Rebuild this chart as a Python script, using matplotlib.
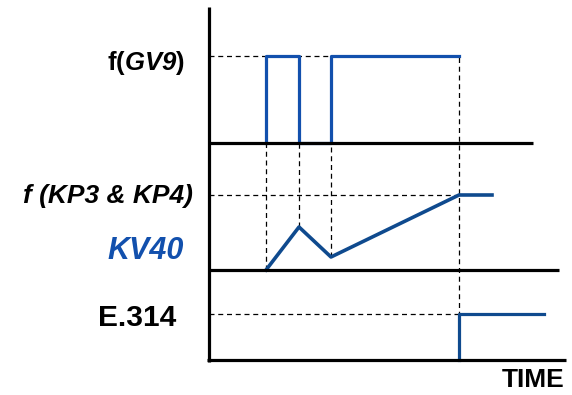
import matplotlib
matplotlib.use("Agg")
from matplotlib import pyplot as plt

plt.rcParams['font.family'] = ['Liberation Sans', 'DejaVu Sans']
plt.rcParams['mathtext.fontset'] = 'custom'
plt.rcParams['mathtext.rm'] = 'Liberation Sans'
plt.rcParams['mathtext.bf'] = 'Liberation Sans:bold'
plt.rcParams['mathtext.bfit'] = 'Liberation Sans:italic:bold'

# event times (arbitrary time units)
t_events = [5.7, 9.0, 12.2, 25.0]

# lane baselines (bottom to top)
base_e314 = 0.0
base_kv40 = 9.0
base_gv9 = 21.7

# f(GV9) pulse train
gv9_t = [5.7, 5.7, 9.0, 9.0, 12.2, 12.2, 25.0]
gv9_v = [0, 8.7, 8.7, 0, 0, 8.7, 8.7]
gv9_high = 8.7

# KV40 ramp
kv40_t = [5.7, 9.0, 12.2, 25.0, 28.3]
kv40_v = [0, 4.3, 1.3, 7.5, 7.5]
kv40_level = 7.5

# E.314 step
e314_t = [25.0, 25.0, 33.5]
e314_v = [0, 4.6, 4.6]
e314_level = 4.6

# lengths of the black lines
gv9_line_end = 32.4
kv40_line_end = 35.0
time_axis_end = 35.7
value_axis_top = 35.3

blue_gv9 = '#1250ad'
blue_kv = '#0f4a8e'

fig = plt.figure(figsize=(5.72, 3.95), dpi=100)
ax = fig.add_axes([0, 0, 1, 1])
ax.set_xlim(-20.9, 36.3)
ax.set_ylim(-3.5, 36.0)
ax.axis('off')

dash = dict(color='black', lw=0.9, ls=(0, (4, 3)), zorder=1)

# dashed guides
ax.plot([0, t_events[3]], [base_gv9 + gv9_high] * 2, **dash)
ax.plot([0, t_events[3]], [base_kv40 + kv40_level] * 2, **dash)
ax.plot([0, t_events[3]], [base_e314 + e314_level] * 2, **dash)
for t, v in zip(t_events[:3], kv40_v[:3]):
    ax.plot([t, t], [base_kv40 + v, base_gv9 + gv9_high], **dash)
ax.plot([t_events[3], t_events[3]], [base_e314, base_gv9 + gv9_high], **dash)

# signals
ax.plot(gv9_t, [base_gv9 + v for v in gv9_v], color=blue_gv9, lw=2.3, zorder=2)
ax.plot(kv40_t, [base_kv40 + v for v in kv40_v], color=blue_kv, lw=2.6, zorder=2)
ax.plot(e314_t, [base_e314 + v for v in e314_v], color=blue_kv, lw=2.3, zorder=2)

# black axes
k = dict(color='black', lw=2.3, zorder=3, solid_capstyle='butt')
ax.plot([0, 0], [-0.2, value_axis_top], **k)
ax.plot([0, gv9_line_end], [base_gv9, base_gv9], **k)
ax.plot([0, kv40_line_end], [base_kv40, base_kv40], **k)
ax.plot([-0.2, time_axis_end], [base_e314, base_e314], **k)

# labels
ax.text(-2.4, 29.0, r'$\mathbf{f(}\mathbfit{GV9}\mathbf{)}$', ha='right', va='baseline',
        fontsize=18.5)
ax.text(-1.6, 15.7, 'f (KP3 & KP4)', ha='right', va='baseline', fontsize=19,
        fontweight='bold', fontstyle='italic')
ax.text(-2.5, 10.1, 'KV40', ha='right', va='baseline', fontsize=22,
        fontweight='bold', fontstyle='italic', color=blue_gv9)
ax.text(-3.3, 3.4, 'E.314', ha='right', va='baseline', fontsize=21.5, fontweight='bold')
ax.text(35.6, -2.7, 'TIME', ha='right', va='baseline', fontsize=19, fontweight='bold')

fig.savefig('out.png', dpi=100)
